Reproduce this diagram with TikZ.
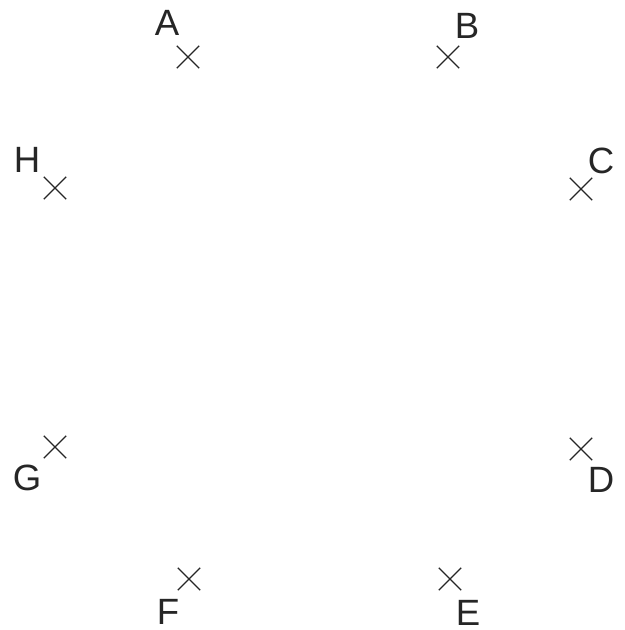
\documentclass[tikz,border=0pt]{standalone}
\usepackage{fontspec}
\setmainfont{Liberation Sans}
\usepackage{tikz}
\usetikzlibrary{shapes.misc}
\tikzset{
    % point marker - small cross
    pointmark/.style={
        cross out,
        draw=black!85,
        line width=0.8pt,
        minimum size=0.53cm,
        inner sep=0pt,
    },
    % letter beside each point
    pointlabel/.style={
        font=\fontsize{26}{30}\selectfont,
        text=black!85,
        inner sep=0pt,
    },
}
\begin{document}
\begin{tikzpicture}[x=0.025cm, y=-0.025cm]
    \useasboundingbox (0,0) rectangle (624,630);
    % the eight points
    \node (A) [pointmark] at (188,57) {};
    \node (B) [pointmark] at (448,57) {};
    \node (C) [pointmark] at (581,189) {};
    \node (D) [pointmark] at (581,449) {};
    \node (E) [pointmark] at (450,579) {};
    \node (F) [pointmark] at (189,579) {};
    \node (G) [pointmark] at (55,447) {};
    \node (H) [pointmark] at (55,188) {};
    % their letters
    \node (labA) [pointlabel] at (167,23) {A};
    \node (labB) [pointlabel] at (467,26) {B};
    \node (labC) [pointlabel] at (601,161) {C};
    \node (labD) [pointlabel] at (601,480) {D};
    \node (labE) [pointlabel] at (468,613) {E};
    \node (labF) [pointlabel] at (168,612) {F};
    \node (labG) [pointlabel] at (27,478) {G};
    \node (labH) [pointlabel] at (27,160) {H};
\end{tikzpicture}
\end{document}
